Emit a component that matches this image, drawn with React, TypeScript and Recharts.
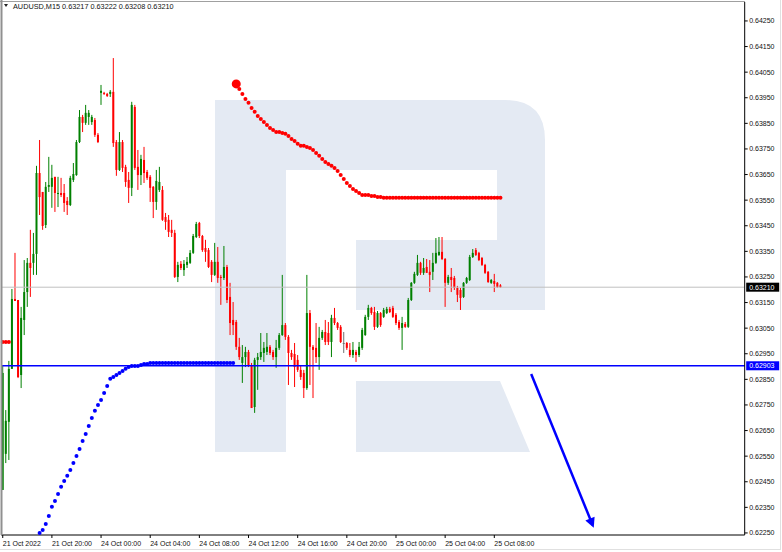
import React from 'react'
import { ComposedChart, Bar, Line, XAxis, YAxis, ReferenceLine } from 'recharts'

document.body.style.margin = '0'

// AUDUSD M15, bars from 21 Oct 16:00 to 25 Oct 08:30
const opens = [
  0.62418, 0.62559, 0.62684, 0.62891, 0.63164, 0.6316, 0.62867, 0.63082, 0.63191, 0.63305,
  0.63305, 0.6334, 0.63656, 0.63582, 0.63453, 0.63602, 0.63602, 0.63641, 0.63574, 0.63578,
  0.63578, 0.63547, 0.63531, 0.63629, 0.63648, 0.63777, 0.63875, 0.63852, 0.63875, 0.63855,
  0.63863, 0.63805, 0.63969, 0.63969, 0.63965, 0.63965, 0.63973, 0.63777, 0.63668, 0.63777,
  0.6368, 0.63629, 0.63598, 0.63914, 0.6368, 0.63648, 0.63707, 0.6366, 0.63641, 0.63602,
  0.63543, 0.6359, 0.6359, 0.63484, 0.63473, 0.63434, 0.63422, 0.6325, 0.63301, 0.63277,
  0.63297, 0.63305, 0.63344, 0.63406, 0.63461, 0.6341, 0.63363, 0.63355, 0.63309, 0.63258,
  0.63309, 0.6325, 0.63246, 0.63289, 0.63172, 0.63082, 0.63074, 0.62977, 0.62914, 0.62937,
  0.62957, 0.62906, 0.62742, 0.62926, 0.62937, 0.62953, 0.62957, 0.62977, 0.62957, 0.62937,
  0.62973, 0.63023, 0.63062, 0.63016, 0.62953, 0.62949, 0.62926, 0.62887, 0.62875, 0.62816,
  0.63109, 0.62977, 0.62973, 0.62937, 0.63012, 0.63035, 0.63031, 0.62996, 0.6309, 0.6307,
  0.63055, 0.62992, 0.62992, 0.62965, 0.62945, 0.62957, 0.62945, 0.62973, 0.63023, 0.63094,
  0.63129, 0.63113, 0.63055, 0.63109, 0.63094, 0.63109, 0.63125, 0.63129, 0.63102, 0.63074,
  0.63051, 0.63066, 0.63055, 0.6316, 0.63227, 0.63258, 0.63305, 0.63266, 0.63289, 0.6327,
  0.6327, 0.63305, 0.63336, 0.63348, 0.6332, 0.63227, 0.6325, 0.63246, 0.63207, 0.63199,
  0.63172, 0.63227, 0.63238, 0.63328, 0.63355, 0.63344, 0.63324, 0.63297, 0.6327, 0.63227,
  0.63234, 0.63227, 0.63217,
]
const highs = [
  0.62906, 0.6273, 0.62922, 0.63203, 0.63344, 0.6316, 0.63133, 0.63316, 0.63324, 0.63434,
  0.63422, 0.63684, 0.63785, 0.63582, 0.63621, 0.63719, 0.63688, 0.63641, 0.63641, 0.63637,
  0.63613, 0.63562, 0.63645, 0.63695, 0.63785, 0.63902, 0.63883, 0.63922, 0.63902, 0.63883,
  0.63871, 0.63812, 0.64, 0.63973, 0.63969, 0.6398, 0.64105, 0.63785, 0.63816, 0.63785,
  0.63688, 0.6366, 0.63934, 0.63922, 0.63746, 0.63727, 0.63758, 0.63668, 0.63648, 0.63605,
  0.63668, 0.6368, 0.63605, 0.635, 0.63492, 0.63473, 0.63434, 0.63309, 0.63312, 0.63316,
  0.63328, 0.63355, 0.63418, 0.63465, 0.63465, 0.63414, 0.63395, 0.63363, 0.63316, 0.63383,
  0.63367, 0.63258, 0.63371, 0.63297, 0.63227, 0.63152, 0.63082, 0.63012, 0.62984, 0.62977,
  0.62965, 0.62914, 0.62934, 0.62953, 0.63031, 0.62996, 0.63031, 0.62984, 0.62965, 0.63004,
  0.63031, 0.63258, 0.6307, 0.63023, 0.62965, 0.62992, 0.62945, 0.62906, 0.62887, 0.63258,
  0.63121, 0.62984, 0.6307, 0.63055, 0.63043, 0.63082, 0.63074, 0.63102, 0.63129, 0.63074,
  0.63062, 0.63035, 0.62996, 0.62992, 0.62996, 0.62965, 0.62996, 0.63051, 0.63102, 0.63141,
  0.63133, 0.63133, 0.63117, 0.63113, 0.63129, 0.63133, 0.63133, 0.63137, 0.63109, 0.63082,
  0.63094, 0.63074, 0.63168, 0.6323, 0.6327, 0.63336, 0.63309, 0.63324, 0.6332, 0.63316,
  0.63344, 0.63402, 0.63406, 0.63406, 0.63324, 0.63258, 0.63285, 0.63254, 0.63215, 0.63207,
  0.6323, 0.6325, 0.63336, 0.63359, 0.63363, 0.63348, 0.63328, 0.63301, 0.63273, 0.63242,
  0.63262, 0.6323, 0.63222,
]
const lows = [
  0.62418, 0.62523, 0.62535, 0.62891, 0.63156, 0.62855, 0.62816, 0.63023, 0.63133, 0.63172,
  0.63258, 0.63258, 0.63492, 0.63434, 0.63441, 0.63582, 0.6352, 0.63504, 0.63523, 0.63562,
  0.63504, 0.63492, 0.63527, 0.63621, 0.63645, 0.63773, 0.63816, 0.63844, 0.63844, 0.63844,
  0.63797, 0.63773, 0.63922, 0.63961, 0.63953, 0.63953, 0.63758, 0.63645, 0.63664, 0.6366,
  0.63602, 0.63539, 0.63566, 0.63668, 0.6359, 0.63609, 0.63617, 0.63629, 0.63543, 0.6348,
  0.63512, 0.63582, 0.63469, 0.63434, 0.63406, 0.63406, 0.63246, 0.6323, 0.63277, 0.63254,
  0.63285, 0.63301, 0.6334, 0.63402, 0.63402, 0.63348, 0.63309, 0.63285, 0.6323, 0.63254,
  0.63227, 0.63141, 0.63238, 0.63148, 0.63023, 0.63023, 0.62965, 0.62926, 0.62836, 0.62898,
  0.62898, 0.62738, 0.62719, 0.62809, 0.62926, 0.62918, 0.62945, 0.62945, 0.62926, 0.62895,
  0.62965, 0.6302, 0.63004, 0.62828, 0.62926, 0.6282, 0.62879, 0.62848, 0.62777, 0.62809,
  0.62828, 0.62777, 0.62914, 0.62887, 0.63004, 0.62984, 0.62984, 0.62937, 0.63062, 0.63043,
  0.62992, 0.62953, 0.62965, 0.62937, 0.62934, 0.62918, 0.62937, 0.62965, 0.6302, 0.63082,
  0.63102, 0.63043, 0.63051, 0.63055, 0.6309, 0.63105, 0.63109, 0.6309, 0.63062, 0.63043,
  0.62965, 0.63051, 0.63051, 0.63156, 0.63223, 0.63254, 0.63258, 0.63258, 0.63266, 0.63191,
  0.63238, 0.63301, 0.63332, 0.63316, 0.63133, 0.63219, 0.63191, 0.63199, 0.63152, 0.63121,
  0.63168, 0.63223, 0.63234, 0.63324, 0.63332, 0.63312, 0.63293, 0.63262, 0.63227, 0.63223,
  0.63191, 0.63207, 0.63208,
]
const closes = [
  0.62875, 0.62688, 0.62891, 0.63164, 0.63156, 0.62859, 0.6309, 0.63191, 0.63305, 0.63285,
  0.6334, 0.63656, 0.63562, 0.63449, 0.63602, 0.63609, 0.63637, 0.63578, 0.63578, 0.6357,
  0.63539, 0.63531, 0.63637, 0.63652, 0.63777, 0.63875, 0.63852, 0.63891, 0.63891, 0.63875,
  0.63805, 0.63777, 0.63977, 0.63965, 0.63957, 0.63973, 0.63773, 0.63668, 0.63777, 0.63676,
  0.63621, 0.63598, 0.63922, 0.63676, 0.63648, 0.63711, 0.63656, 0.63637, 0.63598, 0.63543,
  0.63625, 0.63621, 0.63473, 0.63465, 0.63426, 0.63422, 0.6325, 0.63297, 0.63285, 0.63301,
  0.63309, 0.63344, 0.6341, 0.63457, 0.6341, 0.63355, 0.63348, 0.63289, 0.63258, 0.63309,
  0.63246, 0.63246, 0.63289, 0.6316, 0.6307, 0.63062, 0.62977, 0.62937, 0.62937, 0.62957,
  0.62906, 0.62738, 0.62926, 0.62937, 0.62957, 0.62973, 0.62977, 0.62953, 0.62937, 0.62973,
  0.63023, 0.63062, 0.63016, 0.62953, 0.62937, 0.62898, 0.62887, 0.62859, 0.62816, 0.63109,
  0.62977, 0.62965, 0.62937, 0.63012, 0.63035, 0.62996, 0.62996, 0.6309, 0.6307, 0.63051,
  0.62996, 0.62992, 0.62973, 0.62945, 0.62965, 0.62945, 0.62977, 0.63043, 0.63094, 0.63129,
  0.63109, 0.63055, 0.63109, 0.63062, 0.63121, 0.63125, 0.63113, 0.63094, 0.6307, 0.63051,
  0.6307, 0.63055, 0.6316, 0.63227, 0.63262, 0.63305, 0.63266, 0.63285, 0.63266, 0.63258,
  0.63305, 0.63344, 0.63348, 0.6332, 0.63227, 0.6325, 0.63238, 0.63207, 0.6318, 0.63168,
  0.63227, 0.63246, 0.63328, 0.63344, 0.63336, 0.63316, 0.63297, 0.63266, 0.6323, 0.63238,
  0.63223, 0.63211, 0.6321,
]

// red dotted indicator
const redStub = [0.62996, 0.62996, 0.62996]
const RED_FROM = 76
const redDots = [
  0.64004, 0.63984, 0.63965, 0.63945, 0.6393, 0.6391, 0.63895, 0.63879, 0.63867, 0.63855,
  0.63844, 0.63832, 0.63824, 0.63816, 0.63816, 0.63812, 0.63809, 0.63801, 0.63789, 0.63781,
  0.6377, 0.63762, 0.63762, 0.63758, 0.63754, 0.63746, 0.63734, 0.63723, 0.63711, 0.63699,
  0.63691, 0.63684, 0.63676, 0.63664, 0.63648, 0.63633, 0.63617, 0.63605, 0.63594, 0.63586,
  0.63578, 0.6357, 0.6357, 0.6357, 0.63566, 0.63566, 0.63562, 0.63562, 0.63559, 0.63559,
  0.63559, 0.63559, 0.63559, 0.63559, 0.63559, 0.63559, 0.63559, 0.63559, 0.63559, 0.63559,
  0.63559, 0.63559, 0.63559, 0.63559, 0.63559, 0.63559, 0.63559, 0.63559, 0.63559, 0.63559,
  0.63559, 0.63559, 0.63559, 0.63559, 0.63559, 0.63559, 0.63559, 0.63559, 0.63559, 0.63559,
  0.63559, 0.63559, 0.63559, 0.63559, 0.63559, 0.63559, 0.63559,
]

// blue dotted indicator
const BLUE_FROM = 12
const blueDots = [
  0.6225, 0.62262, 0.62285, 0.62316, 0.62352, 0.62375, 0.62402, 0.6243, 0.62453, 0.62473,
  0.62496, 0.62523, 0.62551, 0.62578, 0.62609, 0.62637, 0.62668, 0.62699, 0.62727, 0.6275,
  0.62769, 0.62797, 0.62824, 0.62852, 0.62859, 0.62867, 0.62875, 0.62883, 0.62891, 0.62898,
  0.62902, 0.62902, 0.62902, 0.62906, 0.6291, 0.6291, 0.62914, 0.62914, 0.62914, 0.62914,
  0.62914, 0.62914, 0.62914, 0.62914, 0.62914, 0.62914, 0.62914, 0.62914, 0.62914, 0.62914,
  0.62914, 0.62914, 0.62914, 0.62914, 0.62914, 0.62914, 0.62914, 0.62914, 0.62914, 0.62914,
  0.62914, 0.62914, 0.62914, 0.62914,
]

// forecast arrow (bar slot, price)
const arrowSlots = [172, 192]
const arrowPrices = [0.62871, 0.62281]

const bidPrice = 0.6321
const levelPrice = 0.62903

const timeLabels = [
  '21 Oct 2022', '21 Oct 20:00', '24 Oct 00:00', '24 Oct 04:00', '24 Oct 08:00', '24 Oct 12:00',
  '24 Oct 16:00', '24 Oct 20:00', '25 Oct 00:00', '25 Oct 04:00', '25 Oct 08:00',
]
const priceTicks = [
  0.6225, 0.6235, 0.6245, 0.6255, 0.6265, 0.6275, 0.6285, 0.6295, 0.6305, 0.6315, 0.6325,
  0.6335, 0.6345, 0.6355, 0.6365, 0.6375, 0.6385, 0.6395, 0.6405, 0.6415, 0.6425,
]

const SLOTS = 242
const FONT = '"Liberation Sans", Arial, sans-serif'

const data = Array.from({ length: SLOTS }, (_, i) => {
  const has = i < closes.length
  let red: number | null = null
  if (i < redStub.length) red = redStub[i]
  else if (i >= RED_FROM && i - RED_FROM < redDots.length) red = redDots[i - RED_FROM]
  const blue = i >= BLUE_FROM && i - BLUE_FROM < blueDots.length ? blueDots[i - BLUE_FROM] : null
  const ai = arrowSlots.indexOf(i)
  return {
    i,
    range: has ? [lows[i], highs[i]] : null,
    o: has ? opens[i] : null,
    h: has ? highs[i] : null,
    l: has ? lows[i] : null,
    c: has ? closes[i] : null,
    red,
    blue,
    arrow: ai >= 0 ? arrowPrices[ai] : null,
  }
})

const Candle = (props: any) => {
  const { x, y, width, height, payload } = props
  if (payload == null || payload.o == null || y == null || isNaN(y)) return <g />
  const { o, h, l, c } = payload
  const top = height < 0 ? y + height : y
  const hh = Math.abs(height)
  const cx = x + width / 2
  const py = (v: number) => (h === l ? top : top + ((h - v) / (h - l)) * hh)
  const col = c > o ? '#008000' : c < o ? '#ff0000' : '#707070'
  const bTop = py(Math.max(o, c))
  const bBot = py(Math.min(o, c))
  return (
    <g>
      <line x1={cx} x2={cx} y1={top} y2={top + hh} stroke={col} strokeWidth={1} />
      <rect x={cx - 1} y={bTop} width={2} height={Math.max(bBot - bTop, 1)} fill={col} />
    </g>
  )
}

const TimeTick = (props: any) => {
  const { x, y, payload } = props
  const k = payload.value / 16
  if (payload.value > 160 || k !== Math.floor(k)) return <g />
  return (
    <g>
      <line x1={x} x2={x} y1={y} y2={y + 3} stroke="#000" />
      <text x={x} y={y + 11} fontSize={7} fill="#111" fontFamily={FONT}>{timeLabels[k]}</text>
    </g>
  )
}

const PriceTick = (props: any) => {
  const { x, y, payload } = props
  return (
    <g>
      <line x1={x} x2={x + 3} y1={y} y2={y} stroke="#000" />
      <text x={x + 4.5} y={y + 2.5} fontSize={7} fill="#111" fontFamily={FONT}>{payload.value.toFixed(5)}</text>
    </g>
  )
}

const priceTag = (bg: string, label: string) => (props: any) => {
  const vb = props.viewBox || {}
  const x = vb.x + vb.width + 1.5
  const y = vb.y
  return (
    <g>
      <rect x={x} y={y - 4.5} width={33} height={9} fill={bg} />
      <text x={x + 3} y={y + 2.5} fontSize={7} fill="#fff" fontFamily={FONT}>{label}</text>
    </g>
  )
}

const dotMaker = (color: string, bigIndex: number) => (p: any) => {
  if (p.value == null || p.cy == null || isNaN(p.cy)) return <g key={`${color}-${p.index}`} />
  return <circle key={`${color}-${p.index}`} cx={p.cx} cy={p.cy} r={p.index === bigIndex ? 4.5 : 2} fill={color} stroke="none" />
}

const App: React.FC = () => {
  return (
    <div style={{ position: 'relative', width: 782, height: 552, background: '#fff', fontFamily: FONT }}>
      <svg width={782} height={552} style={{ position: 'absolute', left: 0, top: 0 }}>
        <g fill="#e4eaf3">
          <rect x={215} y={100} width={71} height={352} />
          <path d="M286,100 H505 Q545,100 545,140 V310 H356 V240 H497 V170 H286 Z" />
          <path d="M356,381 H500 L530,452 H356 Z" />
        </g>
      </svg>
      <div style={{ position: 'absolute', left: 0, top: 0 }}>
        <ComposedChart width={782} height={552} data={data} margin={{ top: 2, right: 0, bottom: 0, left: 1.2 }} barCategoryGap={0}>
          <defs>
            <marker id="arrowHead" viewBox="0 0 10 10" refX="7" refY="5" markerWidth="5" markerHeight="4" orient="auto" markerUnits="strokeWidth">
              <path d="M0,0 L10,5 L0,10 z" fill="#0000ff" />
            </marker>
          </defs>
          <XAxis dataKey="i" height={17} interval={15} tickLine={false} tickSize={0} tickMargin={0} tick={TimeTick} stroke="#000" />
          <YAxis
            orientation="right"
            width={37.3}
            domain={[0.62242, 0.64324]}
            ticks={priceTicks}
            tick={PriceTick}
            tickLine={false}
            tickSize={0}
            tickMargin={0}
            stroke="#000"
            allowDataOverflow
          />
          <ReferenceLine y={bidPrice} stroke="#c0c0c0" strokeWidth={1} label={priceTag('#000', '0.63210')} />
          <ReferenceLine y={levelPrice} stroke="#0000ff" strokeWidth={1.6} label={priceTag('#0000ff', '0.62903')} />
          <Bar dataKey="range" shape={Candle} isAnimationActive={false} />
          <Line dataKey="red" stroke="none" dot={dotMaker('#ff0000', RED_FROM)} activeDot={false} isAnimationActive={false} />
          <Line dataKey="blue" stroke="none" dot={dotMaker('#0000ff', -1)} activeDot={false} isAnimationActive={false} />
          <Line dataKey="arrow" stroke="#0000ff" strokeWidth={2.5} connectNulls dot={false} activeDot={false} markerEnd="url(#arrowHead)" isAnimationActive={false} />
        </ComposedChart>
      </div>
      <svg width={782} height={552} style={{ position: 'absolute', left: 0, top: 0, pointerEvents: 'none' }}>
        <line x1={0} x2={745} y1={1.5} y2={1.5} stroke="#a0a0a0" />
        <line x1={1.5} x2={1.5} y1={0} y2={535} stroke="#909090" strokeWidth={2} />
        <line x1={780.5} x2={780.5} y1={0} y2={550} stroke="#e0e0e0" />
        <line x1={0} x2={781} y1={549.5} y2={549.5} stroke="#e0e0e0" />
        <polygon points="4,4 8,4 6,7" fill="#222" />
        <text x={13} y={9} fontSize={7.3} fill="#111" fontFamily={FONT}>AUDUSD,M15  0.63217 0.63222 0.63208 0.63210</text>
      </svg>
    </div>
  )
}

export default App
